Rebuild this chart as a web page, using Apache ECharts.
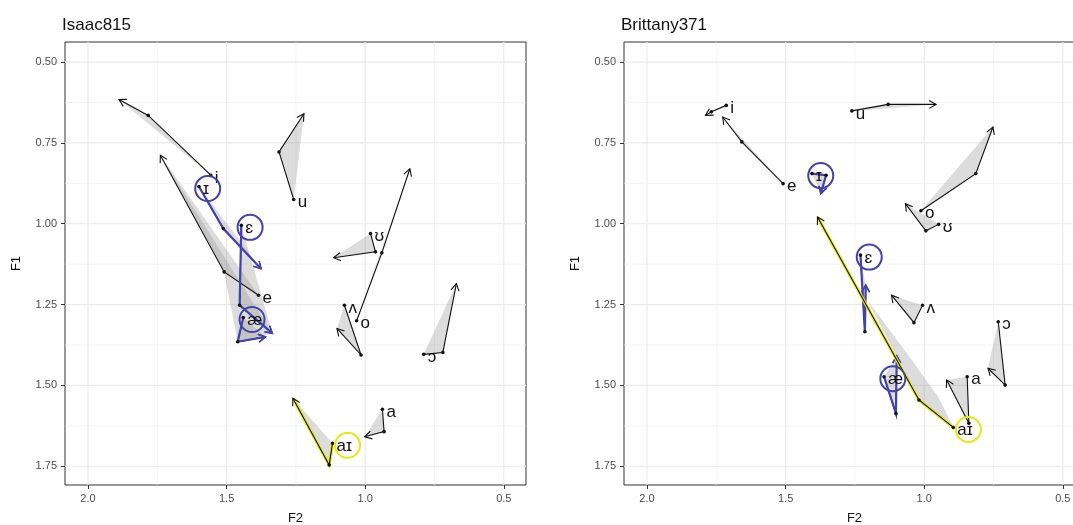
<!DOCTYPE html>
<html>
<head>
<meta charset="utf-8">
<script src="https://cdn.jsdelivr.net/npm/echarts@6/dist/echarts.min.js"></script>
<style>
  html, body { margin: 0; background: #fff; }
  #chart { width: 1073px; height: 525px; }
</style>
</head>
<body>
<div id="chart"></div>
<script>
// vowel order used by every array below
const vowels = ["i", "ɪ", "e", "ɛ", "æ", "u", "ʊ", "o", "ʌ", "ɔ", "a", "aɪ"];
const blueVowels = ["ɪ", "ɛ", "æ"];
const yellowVowels = ["aɪ"];

// trajectories: start, middle, end (F2 / F1)
const isaacF2 = [
  [1.557, 1.783, 1.888], [1.600, 1.512, 1.376], [1.385, 1.509, 1.739], [1.447, 1.453, 1.335],
  [1.440, 1.460, 1.360], [1.258, 1.311, 1.221], [0.981, 0.963, 1.114], [1.031, 0.940, 0.839],
  [1.075, 1.015, 1.102], [0.789, 0.720, 0.671], [0.938, 0.932, 1.002], [1.118, 1.130, 1.261]
];
const isaacF1 = [
  [0.850, 0.665, 0.616], [0.885, 1.015, 1.139], [1.221, 1.149, 0.788], [1.005, 1.252, 1.339],
  [1.290, 1.365, 1.350], [0.925, 0.778, 0.660], [1.030, 1.087, 1.105], [1.300, 1.090, 0.830],
  [1.252, 1.406, 1.324], [1.404, 1.398, 1.185], [1.574, 1.643, 1.659], [1.679, 1.746, 1.540]
];
const brittanyF2 = [
  [1.714, 1.768, 1.789], [1.405, 1.354, 1.373], [1.509, 1.658, 1.727], [1.230, 1.214, 1.211],
  [1.145, 1.102, 1.099], [1.261, 1.130, 0.957], [0.948, 0.994, 1.068], [1.012, 0.814, 0.752],
  [1.006, 1.037, 1.118], [0.733, 0.708, 0.770], [0.845, 0.839, 0.919], [0.895, 1.019, 1.385]
];
const brittanyF1 = [
  [0.634, 0.654, 0.665], [0.845, 0.850, 0.907], [0.876, 0.747, 0.670], [1.097, 1.334, 1.190],
  [1.473, 1.587, 1.409], [0.651, 0.631, 0.631], [1.002, 1.022, 0.938], [0.960, 0.845, 0.701],
  [1.252, 1.306, 1.221], [1.303, 1.499, 1.447], [1.473, 1.617, 1.483], [1.630, 1.545, 0.979]
];
// grey bands that are not the plain triangle of a trajectory
const isaacBandF2 = [1.739, 1.509, 1.460, 1.335];
const isaacBandF1 = [0.788, 1.149, 1.365, 1.339];
const brittanyBandF2 = [1.205, 1.019, 0.895, 0.950, 1.062];
const brittanyBandF1 = [1.236, 1.545, 1.628, 1.535, 1.401];

const f2Ticks = [2.0, 1.5, 1.0, 0.5];
const f2Minor = [1.75, 1.25, 0.75];
const f1Ticks = [0.5, 0.75, 1.0, 1.25, 1.5, 1.75];
const f1Minor = [0.625, 0.875, 1.125, 1.375, 1.625];

const BLUE = "#4343a8";
const YELLOW = "#e3ea10";
const SHADE = "rgba(150,150,150,0.33)";
const FONT = "Liberation Sans, DejaVu Sans, Arial, sans-serif";

const chart = echarts.init(document.getElementById("chart"));

function arrowHead(p1, p2) {
  const a = Math.atan2(p2[1] - p1[1], p2[0] - p1[0]);
  const L = 8, w = 0.52;
  return [
    [p2[0] - L * Math.cos(a - w), p2[1] - L * Math.sin(a - w)],
    p2,
    [p2[0] - L * Math.cos(a + w), p2[1] - L * Math.sin(a + w)]
  ];
}

function gridLines(params, api) {
  const cs = params.coordSys;
  const lines = [];
  f2Ticks.concat(f2Minor).forEach((v, j) => {
    const x = api.coord([v, 1])[0];
    lines.push({ type: "line", shape: { x1: x, y1: cs.y, x2: x, y2: cs.y + cs.height },
      style: { stroke: "#ebebeb", lineWidth: j < f2Ticks.length ? 1.2 : 0.6 } });
  });
  f1Ticks.concat(f1Minor).forEach((v, j) => {
    const y = api.coord([1, v])[1];
    lines.push({ type: "line", shape: { x1: cs.x, y1: y, x2: cs.x + cs.width, y2: y },
      style: { stroke: "#ebebeb", lineWidth: j < f1Ticks.length ? 1.2 : 0.6 } });
  });
  return { type: "group", children: lines };
}

function shadeRender(F2, F1, skip) {
  return function (params, api) {
    const k = params.dataIndex;
    if (k === skip) return null;
    const pts = F2[k].map((x, j) => api.coord([x, F1[k][j]]));
    return { type: "polygon", shape: { points: pts }, style: { fill: SHADE, stroke: null } };
  };
}

function bandRender(F2, F1) {
  return function (params, api) {
    const pts = F2.map((x, j) => api.coord([x, F1[j]]));
    return { type: "polygon", shape: { points: pts }, style: { fill: SHADE, stroke: null } };
  };
}

function trajRender(F2, F1) {
  return function (params, api) {
    const k = params.dataIndex;
    const v = vowels[k];
    const pts = F2[k].map((x, j) => api.coord([x, F1[k][j]]));
    const head = arrowHead(pts[pts.length - 2], pts[pts.length - 1]);
    const kids = [];
    if (yellowVowels.includes(v)) {
      kids.push({ type: "polyline", shape: { points: pts }, style: { stroke: YELLOW, lineWidth: 3.2, fill: null } });
    }
    kids.push({ type: "polyline", shape: { points: pts }, style: { stroke: "#111", lineWidth: 1.1, fill: null } });
    kids.push({ type: "polyline", shape: { points: head }, style: { stroke: "#111", lineWidth: 1.1, fill: null } });
    if (blueVowels.includes(v)) {
      kids.push({ type: "polyline", shape: { points: pts }, style: { stroke: BLUE, lineWidth: 2.2, fill: null } });
      kids.push({ type: "polyline", shape: { points: head }, style: { stroke: BLUE, lineWidth: 1.6, fill: null } });
    }
    pts.slice(0, -1).forEach(p => {
      kids.push({ type: "circle", shape: { cx: p[0], cy: p[1], r: 1.8 }, style: { fill: "#111" } });
    });
    return { type: "group", children: kids };
  };
}

function labelRender(F2, F1) {
  return function (params, api) {
    const k = params.dataIndex;
    const v = vowels[k];
    const p = api.coord([F2[k][0], F1[k][0]]);
    const kids = [{
      type: "text", x: p[0] + 4, y: p[1] + 3,
      style: { text: v, fill: "#111", font: "17px " + FONT, align: "left", verticalAlign: "middle" }
    }];
    const ring = blueVowels.includes(v) ? BLUE : yellowVowels.includes(v) ? YELLOW : null;
    if (ring) {
      const cx = p[0] + 4 + 4.8 * v.length + (v.length > 1 ? 1.5 : 0);
      kids.push({ type: "circle", shape: { cx: cx, cy: p[1] + 2, r: 12.5 },
        style: { fill: null, stroke: ring, lineWidth: 2 } });
    }
    return { type: "group", children: kids };
  };
}

const dummy = vowels.map(() => [1, 1]);
const panels = [
  { name: "Isaac815", F2: isaacF2, F1: isaacF1, left: 65, bandF2: isaacBandF2, bandF1: isaacBandF1, skip: -1 },
  { name: "Brittany371", F2: brittanyF2, F1: brittanyF1, left: 624, bandF2: brittanyBandF2, bandF1: brittanyBandF1, skip: 11 }
];

const grid = [], xAxis = [], yAxis = [], title = [], series = [];
panels.forEach((pn, g) => {
  grid.push({ left: pn.left, top: 42, width: 461, height: 443, show: true,
    outerBoundsMode: "none", containLabel: false,
    borderColor: "#333", borderWidth: 1, backgroundColor: "#fff" });
  title.push({ text: pn.name, left: pn.left - 3, top: 17, padding: 0,
    textStyle: { fontFamily: FONT, fontSize: 17, fontWeight: "normal", color: "#111" } });
  xAxis.push({
    gridIndex: g, type: "value", inverse: true, min: 0.42, max: 2.083,
    name: "F2", nameLocation: "middle", nameGap: 27,
    nameTextStyle: { fontFamily: FONT, fontSize: 13, color: "#111" },
    axisLine: { show: false }, splitLine: { show: false },
    axisTick: { show: true, length: 4, customValues: f2Ticks, lineStyle: { color: "#333" } },
    axisLabel: { customValues: f2Ticks, formatter: v => v.toFixed(1), fontFamily: FONT,
      fontSize: 11, color: "#4d4d4d", margin: 8 }
  });
  yAxis.push({
    gridIndex: g, type: "value", inverse: true, min: 0.438, max: 1.808,
    name: "F1", nameLocation: "middle", nameGap: 42, nameRotate: 90,
    nameTextStyle: { fontFamily: FONT, fontSize: 13, color: "#111" },
    axisLine: { show: false }, splitLine: { show: false },
    axisTick: { show: true, length: 4, customValues: f1Ticks, lineStyle: { color: "#333" } },
    axisLabel: { customValues: f1Ticks, formatter: v => v.toFixed(2), fontFamily: FONT,
      fontSize: 11, color: "#4d4d4d", margin: 8 }
  });
  series.push({ type: "custom", xAxisIndex: g, yAxisIndex: g, z: 1, silent: true,
    data: [[1, 1]], renderItem: gridLines });
  series.push({ type: "custom", xAxisIndex: g, yAxisIndex: g, z: 2, silent: true,
    data: dummy, renderItem: shadeRender(pn.F2, pn.F1, pn.skip) });
  series.push({ type: "custom", xAxisIndex: g, yAxisIndex: g, z: 2, silent: true,
    data: [[1, 1]], renderItem: bandRender(pn.bandF2, pn.bandF1) });
  series.push({ type: "custom", xAxisIndex: g, yAxisIndex: g, z: 3, silent: true,
    data: dummy, renderItem: trajRender(pn.F2, pn.F1) });
  series.push({ type: "custom", xAxisIndex: g, yAxisIndex: g, z: 4, silent: true,
    data: dummy, renderItem: labelRender(pn.F2, pn.F1) });
});

chart.setOption({ animation: false, backgroundColor: "#fff", title, grid, xAxis, yAxis, series });
</script>
</body>
</html>
